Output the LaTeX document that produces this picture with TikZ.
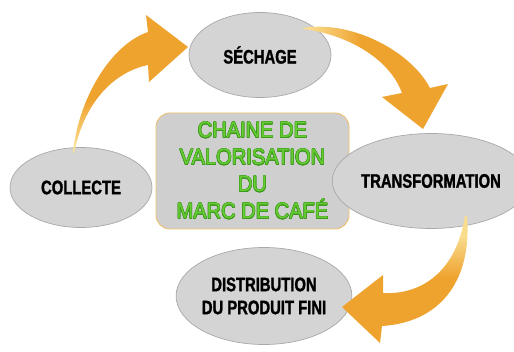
\documentclass[tikz,border=0pt]{standalone}
\usepackage{fontspec}
\setmainfont{Liberation Sans}
\newfontfamily\stagefont[FakeStretch=0.76,BoldFeatures={FakeBold=1.4}]{Liberation Sans}
\newfontfamily\titlefont[FakeStretch=0.9]{Liberation Sans}
\usepackage{contour}
\contourlength{0.45pt}
\usetikzlibrary{shapes.geometric}

\definecolor{arroworange}{HTML}{EFA32F}
\definecolor{arrowlight}{HTML}{F9DC8E}
\definecolor{ellfill}{HTML}{D4D4D4}
\definecolor{ellborder}{HTML}{A8A8A8}
\definecolor{boxfill}{HTML}{CFCFCF}
\definecolor{boxborder}{HTML}{EEC070}
\definecolor{titlegreen}{HTML}{66CC33}
\definecolor{titleedge}{HTML}{3E9A1E}

% curved arrows fade towards their tails
\pgfdeclareverticalshading{fadeup}{100bp}{color(0bp)=(arrowlight); color(28bp)=(arrowlight); color(44bp)=(arroworange); color(100bp)=(arroworange)}
\pgfdeclarehorizontalshading{faderight}{100bp}{color(0bp)=(arrowlight); color(27bp)=(arrowlight); color(45bp)=(arroworange); color(100bp)=(arroworange)}
\pgfdeclareverticalshading{fadedown}{100bp}{color(0bp)=(arroworange); color(51bp)=(arroworange); color(67bp)=(arrowlight); color(100bp)=(arrowlight)}

\tikzset{
  stage/.style={ellipse, draw=ellborder, fill=ellfill, line width=0.7pt,
    inner sep=0pt, align=center, text=black,
    font=\stagefont\bfseries\fontsize{19.5}{23}\selectfont},
  chainbox/.style={draw=boxborder, fill=boxfill, line width=0.9pt,
    rounded corners=14pt, align=center, text=titlegreen, inner sep=0pt,
    font=\titlefont\fontsize{22.3}{27}\selectfont},
}

\begin{document}
\begin{tikzpicture}[x=1pt,y=-1pt]
\useasboundingbox (0,0) rectangle (514,352);

% central title box
\node[chainbox, minimum width=193pt, minimum height=116pt] (chaine) at (252.5,171)
  {\contour{titleedge}{CHAINE DE}\\
   \contour{titleedge}{VALORISATION}\\
   \contour{titleedge}{DU}\\
   \contour{titleedge}{MARC DE CAFÉ}};

% the four stages
\node[stage, minimum width=142pt, minimum height=85pt] (sechage) at (260,55) {SÉCHAGE};
\node[stage, minimum width=153pt, minimum height=95pt] (transfo) at (431,181) {TRANSFORMATION};
\node[stage, minimum width=155pt, minimum height=97pt] (distrib) at (264,296)
  {DISTRIBUTION\\DU PRODUIT FINI};
\node[stage, minimum width=142pt, minimum height=80pt] (collecte) at (81,187.5) {COLLECTE};

% collecte -> sechage
\shade[shading=fadeup] (73,153) .. controls (78,100) and (110,45) .. (148,32)
  -- (146,15) -- (188,47) -- (149,82) -- (148,65)
  .. controls (115,72) and (85,100) .. (74,153) -- cycle;

% sechage -> transformation
\shade[shading=faderight] (303,28) .. controls (350,20) and (410,50) .. (430,88)
  -- (448,84) -- (423,129) -- (382,97) -- (402,93)
  .. controls (390,60) and (350,35) .. (303,29) -- cycle;

% transformation -> distribution
\shade[shading=fadedown] (467,216) .. controls (472,275) and (445,322) .. (382,326)
  -- (380,343) -- (342,307) -- (383,275) -- (383,293)
  .. controls (415,295) and (455,278) .. (465,216) -- cycle;
\end{tikzpicture}
\end{document}
